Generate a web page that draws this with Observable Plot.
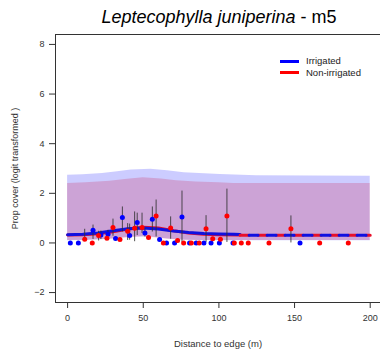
<!DOCTYPE html>
<html>
<head>
<meta charset="utf-8">
<script src="https://cdn.jsdelivr.net/npm/d3@7"></script>
<script src="https://cdn.jsdelivr.net/npm/@observablehq/plot@0.6"></script>
<style>
  body { margin: 0; background: #fff; overflow: hidden; }
  #wrap { position: relative; width: 380px; height: 353px; overflow: hidden; font-family: "Liberation Sans", Arial, sans-serif; }
  #title { position: absolute; left: 219px; top: 8px; transform: translateX(-50%); white-space: nowrap; font-size: 18px; line-height: 18px; color: #000; }
  .leg-line { position: absolute; left: 280px; width: 19px; height: 3px; }
  .leg-text { position: absolute; left: 306px; font-size: 9.5px; line-height: 10px; color: #222; white-space: nowrap; }
</style>
</head>
<body>
<div id="wrap">
  <div id="title"><i>Leptecophylla juniperina</i> - m5</div>
  <div class="leg-line" style="top:59.5px;background:#0000ff"></div>
  <div class="leg-text" style="top:56px">Irrigated</div>
  <div class="leg-line" style="top:70.5px;background:#ff0000"></div>
  <div class="leg-text" style="top:67.5px">Non-irrigated</div>
</div>
<script>
// ---- axis settings ----
const xDomain = [-8, 206.8];
const yDomain = [-2.4, 8.4];
const xTicks = [0, 50, 100, 150, 200];
const yTicks = [-2, 0, 2, 4, 6, 8];
const xLabel = "Distance to edge (m)";
const yLabel = "Prop cover (logit transformed )";

// ---- confidence bands ----
const irrBandX  = [0, 10, 23, 33, 42, 55, 66, 77, 101, 125, 200];
const irrBandHi = [2.73, 2.75, 2.80, 2.87, 2.94, 2.97, 2.91, 2.83, 2.76, 2.71, 2.69];
const irrBandLo = [0.09, 0.10, 0.13, 0.18, 0.24, 0.24, 0.16, 0.11, 0.09, 0.09, 0.09];
const nonBandX  = [0, 12, 28, 38, 50, 62, 72, 85, 100, 110, 200];
const nonBandHi = [2.40, 2.43, 2.49, 2.56, 2.63, 2.58, 2.51, 2.46, 2.43, 2.40, 2.40];
const nonBandLo = [0.10, 0.11, 0.15, 0.20, 0.25, 0.18, 0.12, 0.10, 0.10, 0.10, 0.10];

// ---- fitted lines ----
const irrLineX = [0, 10, 20, 30, 40, 50, 60, 70, 80, 90, 100, 110, 114];
const irrLineY = [0.33, 0.35, 0.40, 0.49, 0.57, 0.60, 0.56, 0.48, 0.42, 0.38, 0.36, 0.35, 0.34];
const nonLineX = [0, 10, 20, 30, 40, 50, 60, 70, 80, 90, 100, 114];
const nonLineY = [0.32, 0.33, 0.37, 0.45, 0.56, 0.63, 0.60, 0.49, 0.40, 0.35, 0.33, 0.32];
const extLineX = [114, 200];
const extLineY = [0.31, 0.31];

// ---- observed points (value, error bar low, high) ----
const irrX  = [1.8, 7.1, 16.8, 22, 26.7, 31.7, 36.2, 41, 46, 51.1, 56, 60.8, 65.4, 70.7, 75.6, 80.6, 85, 90.1, 94.8, 100.3, 109.3, 153.6];
const irrY  = [0, 0, 0.51, 0.32, 0.35, 0.18, 1.03, 0.30, 0.82, 0.40, 0.95, 0.14, 0, 0, 1.05, 0, 0, 0, 0, 0, 0, 0];
const irrLo = [0, 0, 0.14, 0.14, 0.27, 0.18, 0.44, 0.11, 0.30, 0.24, 0.44, 0.14, 0, 0, 0.02, 0, 0, 0, 0, 0, 0, 0];
const irrHi = [0, 0, 0.72, 0.48, 0.51, 0.18, 1.45, 0.76, 1.20, 0.58, 1.45, 0.14, 0, 0, 2.09, 0, 0, 0, 0, 0, 0, 0];

const nonX  = [11.3, 16.3, 20.5, 26, 30, 34.6, 39.7, 44.3, 49.2, 53.5, 58.5, 63.3, 68.1, 72.7, 76.7, 81.8, 87, 91.5, 95.9, 101, 105.3, 110.2, 114.8, 119.4, 133.1, 147.6, 166.6, 185.5];
const nonY  = [0.15, 0, 0.30, 0.19, 0.62, 0.14, 0.47, 0.59, 0.62, 0.22, 1.09, 0, 0.60, 0.10, 0, 0, 0, 0.57, 0.17, 0.15, 1.09, 0, 0, 0, 0, 0.57, 0, 0];
const nonLo = [0.10, 0, 0.08, 0.19, 0.27, 0.14, 0.10, 0.05, 0.38, 0.22, 0.24, 0, 0.15, 0.10, 0, 0, 0, 0.02, 0.17, 0.15, 0.02, 0, 0, 0, 0, 0.00, 0, 0];
const nonHi = [0.55, 0, 0.47, 0.19, 0.96, 0.14, 0.78, 1.25, 1.20, 0.22, 1.73, 0, 1.05, 0.10, 0, 0, 0, 1.10, 0.17, 0.15, 2.17, 0, 0, 0, 0, 1.09, 0, 0];

const BLUE = "#0000ff", RED = "#ff0000";

const band = (xs, lo, hi) => xs.map((x, i) => ({x, lo: lo[i], hi: hi[i]}));
const line = (xs, ys) => xs.map((x, i) => ({x, y: ys[i]}));
const pts = (xs, ys, lo, hi) => xs.map((x, i) => ({x, y: ys[i], lo: lo[i], hi: hi[i]}));

const irrPts = pts(irrX, irrY, irrLo, irrHi);
const nonPts = pts(nonX, nonY, nonLo, nonHi);
const bars = [...irrPts, ...nonPts].filter(d => d.hi > d.lo);

const font = "'Liberation Sans', Arial, sans-serif";

const chart = Plot.plot({
  width: 380,
  height: 353,
  marginLeft: 55,
  marginRight: 0,
  marginTop: 34,
  marginBottom: 51,
  style: {fontFamily: font, fontSize: "9px", color: "#333", background: "#fff"},
  x: {domain: xDomain},
  y: {domain: yDomain},
  marks: [
    Plot.areaY(band(nonBandX, nonBandLo, nonBandHi), {x: "x", y1: "lo", y2: "hi", fill: RED, fillOpacity: 0.2}),
    Plot.areaY(band(irrBandX, irrBandLo, irrBandHi), {x: "x", y1: "lo", y2: "hi", fill: BLUE, fillOpacity: 0.2}),
    Plot.line(line(nonLineX, nonLineY), {x: "x", y: "y", stroke: "#e8102a", strokeWidth: 3}),
    Plot.line(line(irrLineX, irrLineY), {x: "x", y: "y", stroke: "#1010e0", strokeWidth: 3}),
    Plot.line(line(extLineX, extLineY), {x: "x", y: "y", stroke: "#e8102a", strokeWidth: 3, strokeDasharray: "9 9"}),
    Plot.line(line(extLineX, extLineY), {x: "x", y: "y", stroke: "#1010e0", strokeWidth: 3, strokeDasharray: "9 9", strokeDashoffset: 9}),
    Plot.ruleX(bars, {x: "x", y1: "lo", y2: "hi", stroke: "#333", strokeWidth: 1, strokeOpacity: 0.85}),
    Plot.dot(irrPts, {x: "x", y: "y", r: 2.5, fill: BLUE, stroke: null}),
    Plot.dot(nonPts, {x: "x", y: "y", r: 2.5, fill: RED, stroke: null}),
    Plot.ruleX([xDomain[0]], {stroke: "#333"}),
    Plot.ruleY([yDomain[0]], {stroke: "#333"}),
    Plot.ruleY([yDomain[1]], {stroke: "#333"}),
    Plot.axisX({ticks: xTicks, tickSize: 6, tickPadding: 6, label: null, fontSize: 9, stroke: "#333", fill: "#333"}),
    Plot.axisY({ticks: yTicks, tickSize: 6, tickPadding: 5, label: null, fontSize: 9, stroke: "#333", fill: "#333"}),
    Plot.text([yLabel], {frameAnchor: "left", text: d => d, rotate: -90, dx: -40, textAnchor: "middle", lineAnchor: "middle", fontSize: 9, fill: "#333"}),
    Plot.text([xLabel], {frameAnchor: "bottom", text: d => d, dy: 41, textAnchor: "middle", lineAnchor: "middle", fontSize: 9.5, fill: "#333"})
  ]
});
chart.style.position = "absolute";
chart.style.left = "0";
chart.style.top = "0";
document.getElementById("wrap").prepend(chart);
</script>
</body>
</html>
